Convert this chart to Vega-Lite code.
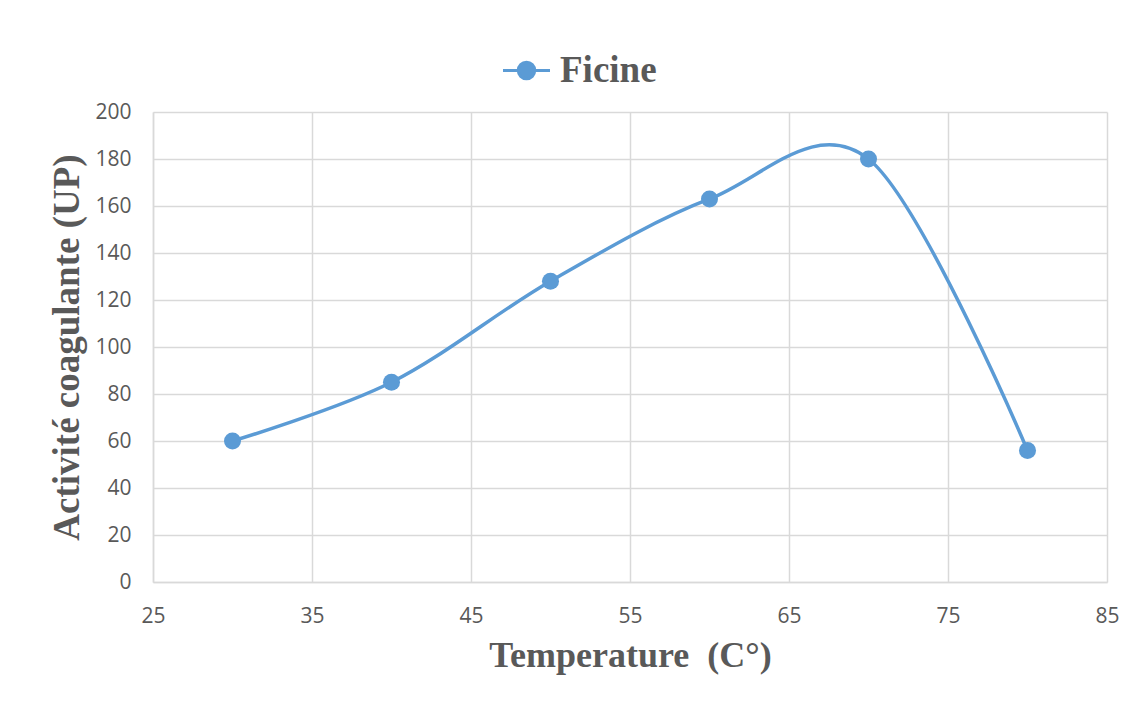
{
  "$schema": "https://vega.github.io/schema/vega-lite/v6.json",
  "width": 954,
  "height": 470,
  "autosize": "none",
  "padding": {"left": 153, "top": 112, "right": 36, "bottom": 122},
  "background": "white",
  "config": {
    "view": {"stroke": null},
    "axis": {
      "gridColor": "#d9d9d9",
      "gridWidth": 1.5,
      "domainColor": "#d9d9d9",
      "domainWidth": 1.5,
      "ticks": false,
      "tickSize": 0,
      "labelFont": "Open Sans",
      "labelFontSize": 21,
      "labelColor": "#595959",
      "labelFlush": false,
      "labelOverlap": false,
      "titleFont": "Liberation Serif",
      "titleFontSize": 36,
      "titleFontWeight": "bold",
      "titleColor": "#595959"
    }
  },
  "data": {
    "values": [
      {"temperature": 30, "activite": 60, "serie": "Ficine"},
      {"temperature": 40, "activite": 85, "serie": "Ficine"},
      {"temperature": 50, "activite": 128, "serie": "Ficine"},
      {"temperature": 60, "activite": 163, "serie": "Ficine"},
      {"temperature": 70, "activite": 180, "serie": "Ficine"},
      {"temperature": 80, "activite": 56, "serie": "Ficine"}
    ]
  },
  "encoding": {
    "x": {
      "field": "temperature",
      "type": "quantitative",
      "scale": {"domain": [25, 85], "nice": false, "zero": false},
      "axis": {
        "values": [25, 35, 45, 55, 65, 75, 85],
        "title": "Temperature\u00a0 (C°)",
        "labelPadding": 23,
        "titlePadding": 12
      }
    },
    "y": {
      "field": "activite",
      "type": "quantitative",
      "scale": {"domain": [0, 200], "nice": false},
      "axis": {
        "values": [0, 20, 40, 60, 80, 100, 120, 140, 160, 180, 200],
        "title": "Activité coagulante (UP)",
        "titleFontSize": 37,
        "labelPadding": 22,
        "titlePadding": 8
      }
    },
    "color": {
      "field": "serie",
      "type": "nominal",
      "scale": {"range": ["#5B9BD5"]},
      "legend": {
        "title": null,
        "orient": "none",
        "legendX": 355,
        "legendY": -60,
        "padding": 0,
        "symbolType": "M-2,0H2M0.7,0A0.7,0.7,0,1,1,-0.7,0A0.7,0.7,0,1,1,0.7,0Z",
        "symbolSize": 552,
        "symbolStrokeWidth": 3,
        "symbolFillColor": "#5B9BD5",
        "symbolStrokeColor": "#5B9BD5",
        "symbolOpacity": 1,
        "labelFont": "Liberation Serif",
        "labelFontSize": 37,
        "labelFontWeight": "bold",
        "labelColor": "#595959",
        "labelOffset": 15
      }
    }
  },
  "layer": [
    {
      "mark": {"type": "line", "interpolate": "cardinal", "tension": 0, "strokeWidth": 3.5}
    },
    {
      "mark": {"type": "point", "filled": true, "size": 290, "opacity": 1}
    }
  ]
}
